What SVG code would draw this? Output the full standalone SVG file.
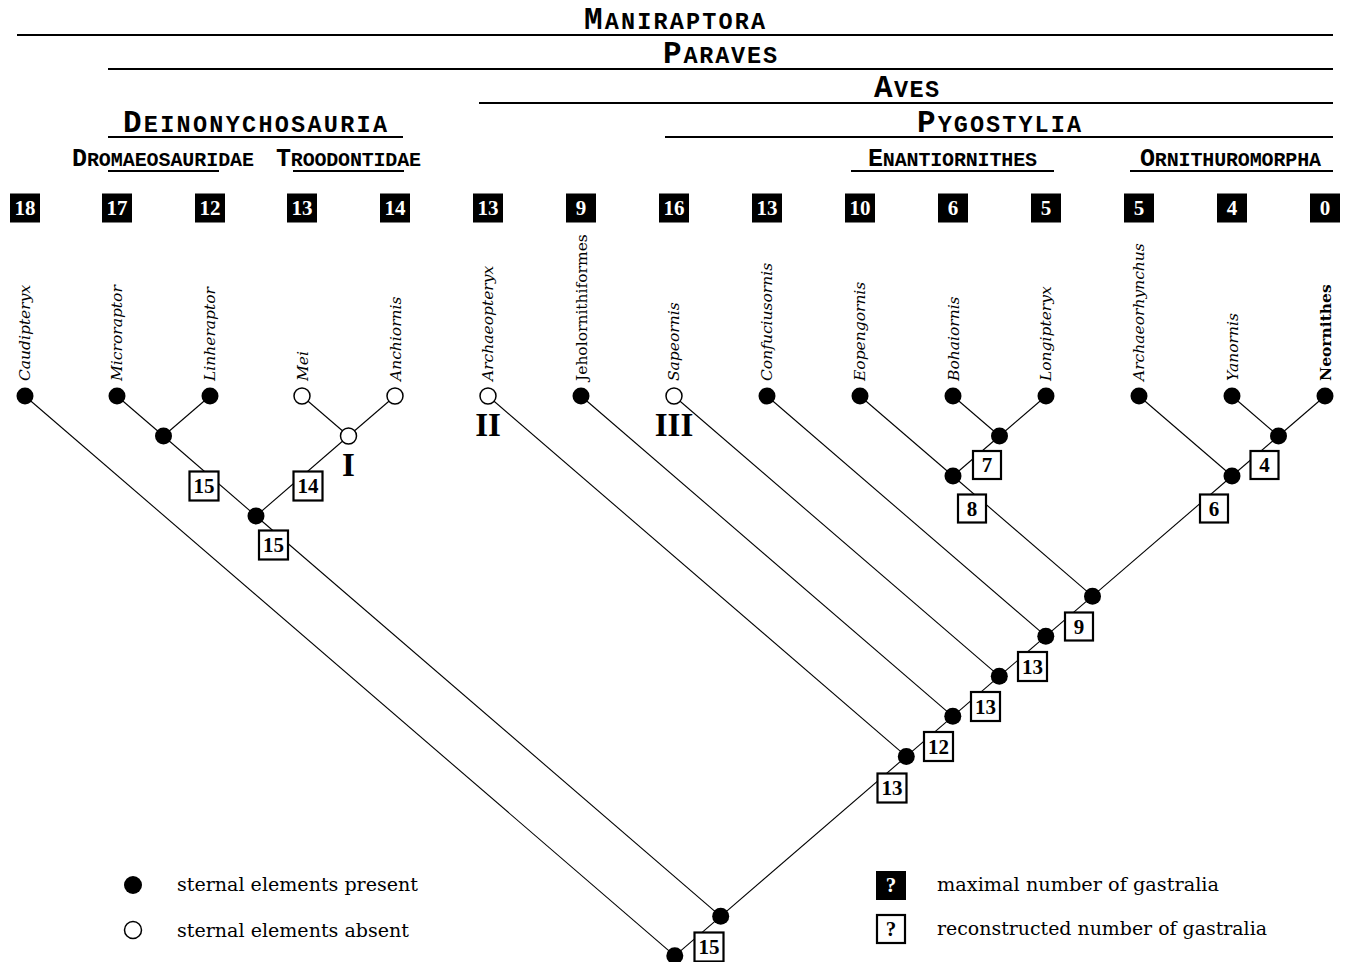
<svg xmlns="http://www.w3.org/2000/svg" width="1346" height="962" viewBox="0 0 1346 962">
<style>
.ln{stroke:#000;stroke-width:1.1;fill:none}
.hl{stroke:#000;stroke-width:2;fill:none}
.f{fill:#000}
.o{fill:#fff;stroke:#000;stroke-width:1.5}
.bb{fill:#000}
.wb{fill:#fff;stroke:#000;stroke-width:2.2}
.bt{fill:#fff;font-family:"Liberation Serif",serif;font-weight:bold;font-size:21px;text-anchor:middle}
.wt{fill:#000;font-family:"Liberation Serif",serif;font-weight:bold;font-size:21px;text-anchor:middle}
.tx{font-family:"DejaVu Serif",serif;font-size:15.5px;font-style:italic;fill:#000}
.up{font-style:normal}
.bd{font-style:normal;font-weight:bold}
.hd{font-family:"Liberation Mono",monospace;font-weight:bold;fill:#000}
.h1{font-size:31px}
.h2{font-size:23.5px}
.s1{font-size:25px}
.s2{font-size:20px}
.rn{font-family:"Liberation Serif",serif;font-weight:bold;font-size:33px;text-anchor:middle;fill:#000}
.lg{font-family:"DejaVu Serif",serif;font-size:19px;fill:#000}
</style>
<rect width="1346" height="962" fill="#fff"/>

<g id="headers">
  <line class="hl" x1="17" y1="35" x2="1333" y2="35"/>
  <text class="hd" x="584" y="29" textLength="181" lengthAdjust="spacing"><tspan class="h1">M</tspan><tspan class="h2">ANIRAPTORA</tspan></text>
  <line class="hl" x1="108" y1="69" x2="1333" y2="69"/>
  <text class="hd" x="663" y="63" textLength="114" lengthAdjust="spacing"><tspan class="h1">P</tspan><tspan class="h2">ARAVES</tspan></text>
  <line class="hl" x1="479" y1="103" x2="1333" y2="103"/>
  <text class="hd" x="874" y="97" textLength="65" lengthAdjust="spacing"><tspan class="h1">A</tspan><tspan class="h2">VES</tspan></text>
  <line class="hl" x1="108" y1="137" x2="403" y2="137"/>
  <text class="hd" x="123" y="132" textLength="264" lengthAdjust="spacing"><tspan class="h1">D</tspan><tspan class="h2">EINONYCHOSAURIA</tspan></text>
  <line class="hl" x1="665" y1="137" x2="1333" y2="137"/>
  <text class="hd" x="917" y="132" textLength="164" lengthAdjust="spacing"><tspan class="h1">P</tspan><tspan class="h2">YGOSTYLIA</tspan></text>
  <line class="hl" x1="108" y1="171" x2="219" y2="171"/>
  <text class="hd" x="72" y="166" textLength="182" lengthAdjust="spacing"><tspan class="s1">D</tspan><tspan class="s2">ROMAEOSAURIDAE</tspan></text>
  <line class="hl" x1="293" y1="171" x2="404" y2="171"/>
  <text class="hd" x="276" y="166" textLength="145" lengthAdjust="spacing"><tspan class="s1">T</tspan><tspan class="s2">ROODONTIDAE</tspan></text>
  <line class="hl" x1="851" y1="171" x2="1054" y2="171"/>
  <text class="hd" x="868" y="166" textLength="169" lengthAdjust="spacing"><tspan class="s1">E</tspan><tspan class="s2">NANTIORNITHES</tspan></text>
  <line class="hl" x1="1130" y1="171" x2="1333" y2="171"/>
  <text class="hd" x="1140" y="166" textLength="181" lengthAdjust="spacing"><tspan class="s1">O</tspan><tspan class="s2">RNITHUROMORPHA</tspan></text>
</g>

<g id="connectors">
  <line class="ln" x1="25" y1="396" x2="674.8" y2="955.8"/>
  <line class="ln" x1="117" y1="396" x2="163.5" y2="436"/>
  <line class="ln" x1="210" y1="396" x2="163.5" y2="436"/>
  <line class="ln" x1="302" y1="396" x2="348.5" y2="436"/>
  <line class="ln" x1="395" y1="396" x2="348.5" y2="436"/>
  <line class="ln" x1="163.5" y1="436" x2="256" y2="516"/>
  <line class="ln" x1="348.5" y1="436" x2="256" y2="516"/>
  <line class="ln" x1="256" y1="516" x2="720.7" y2="916.3"/>
  <line class="ln" x1="488" y1="396" x2="906.3" y2="756.4"/>
  <line class="ln" x1="581" y1="396" x2="952.8" y2="716.3"/>
  <line class="ln" x1="674" y1="396" x2="999.3" y2="676.2"/>
  <line class="ln" x1="767" y1="396" x2="1045.8" y2="636.2"/>
  <line class="ln" x1="860" y1="396" x2="953" y2="476"/>
  <line class="ln" x1="953" y1="396" x2="999.5" y2="436"/>
  <line class="ln" x1="1046" y1="396" x2="999.5" y2="436"/>
  <line class="ln" x1="999.5" y1="436" x2="953" y2="476"/>
  <line class="ln" x1="953" y1="476" x2="1092.5" y2="596.2"/>
  <line class="ln" x1="1139" y1="396" x2="1232" y2="476"/>
  <line class="ln" x1="1232" y1="396" x2="1278.5" y2="436"/>
  <line class="ln" x1="1325" y1="396" x2="1278.5" y2="436"/>
  <line class="ln" x1="1278.5" y1="436" x2="1232" y2="476"/>
  <line class="ln" x1="1232" y1="476" x2="1092.5" y2="596.2"/>
  <line class="ln" x1="1092.5" y1="596.2" x2="1045.8" y2="636.2"/>
  <line class="ln" x1="1045.8" y1="636.2" x2="999.3" y2="676.2"/>
  <line class="ln" x1="999.3" y1="676.2" x2="952.8" y2="716.3"/>
  <line class="ln" x1="952.8" y1="716.3" x2="906.3" y2="756.4"/>
  <line class="ln" x1="906.3" y1="756.4" x2="720.7" y2="916.3"/>
  <line class="ln" x1="720.7" y1="916.3" x2="674.8" y2="955.8"/>
</g>

<g id="tip-caudipteryx">
  <rect class="bb" x="10" y="193.5" width="30" height="29"/><text class="bt" x="25" y="215">18</text>
  <text class="tx" transform="translate(30,381) rotate(-90)">Caudipteryx</text>
  <circle class="f" cx="25" cy="396" r="8.5"/>
</g>
<g id="tip-microraptor">
  <rect class="bb" x="102" y="193.5" width="30" height="29"/><text class="bt" x="117" y="215">17</text>
  <text class="tx" transform="translate(122,381) rotate(-90)">Microraptor</text>
  <circle class="f" cx="117" cy="396" r="8.5"/>
</g>
<g id="tip-linheraptor">
  <rect class="bb" x="195" y="193.5" width="30" height="29"/><text class="bt" x="210" y="215">12</text>
  <text class="tx" transform="translate(215,381) rotate(-90)">Linheraptor</text>
  <circle class="f" cx="210" cy="396" r="8.5"/>
</g>
<g id="tip-mei">
  <rect class="bb" x="287" y="193.5" width="30" height="29"/><text class="bt" x="302" y="215">13</text>
  <text class="tx" transform="translate(308,381) rotate(-90)">Mei</text>
  <circle class="o" cx="302" cy="396" r="8"/>
</g>
<g id="tip-anchiornis">
  <rect class="bb" x="380" y="193.5" width="30" height="29"/><text class="bt" x="395" y="215">14</text>
  <text class="tx" transform="translate(401,381) rotate(-90)">Anchiornis</text>
  <circle class="o" cx="395" cy="396" r="8"/>
</g>
<g id="tip-archaeopteryx">
  <rect class="bb" x="473" y="193.5" width="30" height="29"/><text class="bt" x="488" y="215">13</text>
  <text class="tx" transform="translate(493,381) rotate(-90)">Archaeopteryx</text>
  <circle class="o" cx="488" cy="396" r="8"/>
  <text class="rn" x="488" y="436">II</text>
</g>
<g id="tip-jeholornithiformes">
  <rect class="bb" x="566" y="193.5" width="30" height="29"/><text class="bt" x="581" y="215">9</text>
  <text class="tx up" transform="translate(587,381) rotate(-90)">Jeholornithiformes</text>
  <circle class="f" cx="581" cy="396" r="8.5"/>
</g>
<g id="tip-sapeornis">
  <rect class="bb" x="659" y="193.5" width="30" height="29"/><text class="bt" x="674" y="215">16</text>
  <text class="tx" transform="translate(679,381) rotate(-90)">Sapeornis</text>
  <circle class="o" cx="674" cy="396" r="8"/>
  <text class="rn" x="674" y="436">III</text>
</g>
<g id="tip-confuciusornis">
  <rect class="bb" x="752" y="193.5" width="30" height="29"/><text class="bt" x="767" y="215">13</text>
  <text class="tx" transform="translate(772,381) rotate(-90)">Confuciusornis</text>
  <circle class="f" cx="767" cy="396" r="8.5"/>
</g>
<g id="tip-eopengornis">
  <rect class="bb" x="845" y="193.5" width="30" height="29"/><text class="bt" x="860" y="215">10</text>
  <text class="tx" transform="translate(865,381) rotate(-90)">Eopengornis</text>
  <circle class="f" cx="860" cy="396" r="8.5"/>
</g>
<g id="tip-bohaiornis">
  <rect class="bb" x="938" y="193.5" width="30" height="29"/><text class="bt" x="953" y="215">6</text>
  <text class="tx" transform="translate(959,381) rotate(-90)">Bohaiornis</text>
  <circle class="f" cx="953" cy="396" r="8.5"/>
</g>
<g id="tip-longipteryx">
  <rect class="bb" x="1031" y="193.5" width="30" height="29"/><text class="bt" x="1046" y="215">5</text>
  <text class="tx" transform="translate(1051,381) rotate(-90)">Longipteryx</text>
  <circle class="f" cx="1046" cy="396" r="8.5"/>
</g>
<g id="tip-archaeorhynchus">
  <rect class="bb" x="1124" y="193.5" width="30" height="29"/><text class="bt" x="1139" y="215">5</text>
  <text class="tx" transform="translate(1144,381) rotate(-90)">Archaeorhynchus</text>
  <circle class="f" cx="1139" cy="396" r="8.5"/>
</g>
<g id="tip-yanornis">
  <rect class="bb" x="1217" y="193.5" width="30" height="29"/><text class="bt" x="1232" y="215">4</text>
  <text class="tx" transform="translate(1238,381) rotate(-90)">Yanornis</text>
  <circle class="f" cx="1232" cy="396" r="8.5"/>
</g>
<g id="tip-neornithes">
  <rect class="bb" x="1310" y="193.5" width="30" height="29"/><text class="bt" x="1325" y="215">0</text>
  <text class="tx bd" transform="translate(1331,381) rotate(-90)">Neornithes</text>
  <circle class="f" cx="1325" cy="396" r="8.5"/>
</g>

<g id="node-dromaeosauridae">
  <circle class="f" cx="163.5" cy="436" r="8.5"/>
  <rect class="wb" x="189.5" y="471.5" width="29" height="29"/><text class="wt" x="204" y="493">15</text>
</g>
<g id="node-troodontidae">
  <circle class="o" cx="348.5" cy="436" r="8"/>
  <text class="rn" x="348.5" y="476">I</text>
  <rect class="wb" x="293.5" y="471.5" width="29" height="29"/><text class="wt" x="308" y="493">14</text>
</g>
<g id="node-deinonychosauria">
  <circle class="f" cx="256" cy="516" r="8.5"/>
  <rect class="wb" x="259" y="530.5" width="29" height="29"/><text class="wt" x="273.5" y="552">15</text>
</g>
<g id="node-bohaiornis-longipteryx">
  <circle class="f" cx="999.5" cy="436" r="8.5"/>
  <rect class="wb" x="973" y="451" width="28" height="28"/><text class="wt" x="987" y="472">7</text>
</g>
<g id="node-enantiornithes">
  <circle class="f" cx="953" cy="476" r="8.5"/>
  <rect class="wb" x="958" y="494.5" width="28" height="28"/><text class="wt" x="972" y="515.5">8</text>
</g>
<g id="node-yanornis-neornithes">
  <circle class="f" cx="1278.5" cy="436" r="8.5"/>
  <rect class="wb" x="1250.5" y="451" width="28" height="28"/><text class="wt" x="1264.5" y="472">4</text>
</g>
<g id="node-ornithuromorpha">
  <circle class="f" cx="1232" cy="476" r="8.5"/>
  <rect class="wb" x="1200" y="494.5" width="28" height="28"/><text class="wt" x="1214" y="515.5">6</text>
</g>
<g id="node-ornithothoraces">
  <circle class="f" cx="1092.5" cy="596.2" r="8.5"/>
  <rect class="wb" x="1065" y="612.5" width="28" height="28"/><text class="wt" x="1079" y="633.5">9</text>
</g>
<g id="node-confuciusornis">
  <circle class="f" cx="1045.8" cy="636.2" r="8.5"/>
  <rect class="wb" x="1018" y="652" width="29" height="29"/><text class="wt" x="1032.5" y="673.5">13</text>
</g>
<g id="node-sapeornis">
  <circle class="f" cx="999.3" cy="676.2" r="8.5"/>
  <rect class="wb" x="971" y="692" width="29" height="29"/><text class="wt" x="985.5" y="713.5">13</text>
</g>
<g id="node-jeholornis">
  <circle class="f" cx="952.8" cy="716.3" r="8.5"/>
  <rect class="wb" x="924" y="732" width="29" height="29"/><text class="wt" x="938.5" y="753.5">12</text>
</g>
<g id="node-aves">
  <circle class="f" cx="906.3" cy="756.4" r="8.5"/>
  <rect class="wb" x="877.5" y="773.5" width="29" height="29"/><text class="wt" x="892" y="795">13</text>
</g>
<g id="node-paraves">
  <circle class="f" cx="720.7" cy="916.3" r="8.5"/>
  <rect class="wb" x="694.5" y="932.5" width="29" height="29"/><text class="wt" x="709" y="954">15</text>
</g>
<g id="node-maniraptora">
  <circle class="f" cx="674.8" cy="955.8" r="8.5"/>
</g>

<g id="legend">
  <circle class="f" cx="133" cy="885" r="9"/>
  <text class="lg" x="177" y="891" textLength="241" lengthAdjust="spacingAndGlyphs">sternal elements present</text>
  <circle class="o" cx="133" cy="930" r="8.5"/>
  <text class="lg" x="177" y="937" textLength="232" lengthAdjust="spacingAndGlyphs">sternal elements absent</text>
  <rect class="bb" x="876" y="871" width="30" height="29"/><text class="bt" x="891" y="892">?</text>
  <text class="lg" x="937" y="891" textLength="282" lengthAdjust="spacingAndGlyphs">maximal number of gastralia</text>
  <rect class="wb" x="877" y="915" width="28" height="28"/><text class="wt" x="891" y="936">?</text>
  <text class="lg" x="937" y="935" textLength="330" lengthAdjust="spacingAndGlyphs">reconstructed number of gastralia</text>
</g>
</svg>
